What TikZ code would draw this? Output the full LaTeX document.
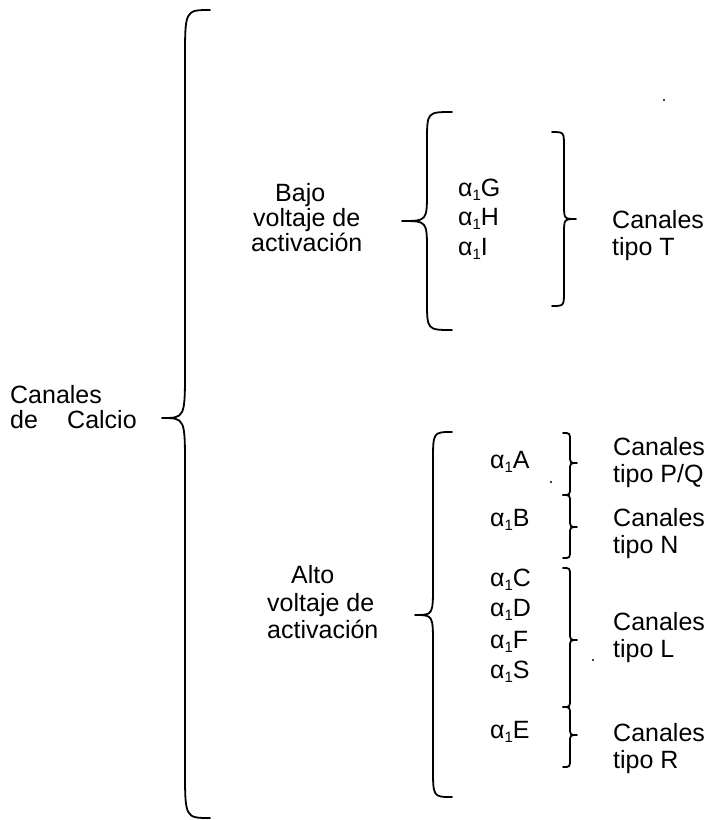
\documentclass[tikz,border=0pt]{standalone}
\usepackage{fontspec}
\setmainfont{Liberation Sans}
\newcommand{\aone}{α\raisebox{-0.18em}{\fontsize{15}{15}\selectfont 1}}
% xe xv xt yt ym yb rend rtip
\newcommand{\CurlyBr}[8]{%
  \draw[bracestyle] (#1,#4) .. controls (#2,#4) and (#2,#4) .. (#2,#4+#7)
    -- (#2,#5-#8) .. controls (#2,#5) and (#2,#5) .. (#3,#5)
    .. controls (#2,#5) and (#2,#5) .. (#2,#5+#8)
    -- (#2,#6-#7) .. controls (#2,#6) and (#2,#6) .. (#1,#6);}
\begin{document}
\begin{tikzpicture}[x=1pt,y=-1pt,
  bracestyle/.style={line width=1.8pt,line cap=round,line join=round},
  lbl/.style={anchor=base west,inner sep=0pt,font=\fontsize{25}{27}\selectfont}]
\useasboundingbox (0,0) rectangle (721,820);
% braces
\CurlyBr{210}{185}{162}{10}{418}{818}{50}{50}
\CurlyBr{452}{427}{402}{112}{221}{330}{30}{30}
\CurlyBr{552}{564}{576}{132}{219}{306}{15}{15}
\CurlyBr{452}{433}{415}{432}{615}{797}{30}{30}
\CurlyBr{563}{570}{577}{433}{463}{495}{8}{8}
\CurlyBr{563}{570}{577}{495}{527}{558}{8}{8}
\CurlyBr{563}{570}{577}{568}{640}{707}{8}{8}
\CurlyBr{563}{570}{577}{707}{735}{767}{8}{8}
% root
\node[lbl] (c1) at (10,403) {Canales};
\node[lbl] (c2) at (10,428) {de};
\node[lbl] (c3) at (67,428) {Calcio};
% bajo
\node[lbl] (b1) at (275,201) {Bajo};
\node[lbl] (b2) at (253,226) {voltaje de};
\node[lbl] (b3) at (251,251) {activación};
% alto
\node[lbl] (a1) at (291,583) {Alto};
\node[lbl] (a2) at (267,611) {voltaje de};
\node[lbl] (a3) at (267,638) {activación};
% upper alphas
\node[lbl] (g) at (458,196) {\aone G};
\node[lbl] (h) at (458,225) {\aone H};
\node[lbl] (i) at (458,255) {\aone I};
\node[lbl] (t1) at (612,228) {Canales};
\node[lbl] (t2) at (612,255) {tipo T};
% lower alphas
\node[lbl] (aa) at (490,468) {\aone A};
\node[lbl] (ab) at (490,526) {\aone B};
\node[lbl] (ac) at (490,586) {\aone C};
\node[lbl] (ad) at (490,616) {\aone D};
\node[lbl] (af) at (490,648) {\aone F};
\node[lbl] (as) at (490,678) {\aone S};
\node[lbl] (ae) at (490,738) {\aone E};
\node[lbl] (p1) at (613,455) {Canales};
\node[lbl] (p2) at (613,482) {tipo P/Q};
\node[lbl] (n1) at (613,526) {Canales};
\node[lbl] (n2) at (613,553) {tipo N};
\node[lbl] (l1) at (613,630) {Canales};
\node[lbl] (l2) at (613,657) {tipo L};
\node[lbl] (r1) at (613,741) {Canales};
\node[lbl] (r2) at (613,768) {tipo R};
% specks
\fill (551,482) circle (1.2);
\fill (593,660) circle (1.2);
\fill (664,100) circle (1.2);
\end{tikzpicture}
\end{document}
